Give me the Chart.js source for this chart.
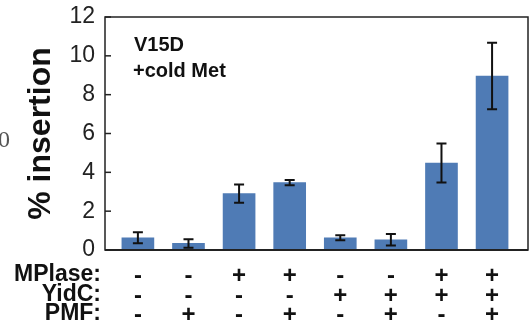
<!DOCTYPE html>
<html>
<head>
<meta charset="utf-8">
<script src="https://cdn.jsdelivr.net/npm/chart.js@4"></script>
<style>
  html, body { margin: 0; padding: 0; background: #fff; }
  #wrap { width: 532px; height: 324px; position: relative; }
</style>
</head>
<body>
<div id="wrap"><canvas id="chart"></canvas></div>
<script>
// conditions for each bar
const mplase = ["-", "-", "+", "+", "-", "-", "+", "+"];
const yidc = ["-", "-", "-", "-", "+", "+", "+", "+"];
const pmf = ["-", "+", "-", "+", "-", "+", "-", "+"];
const rowLabels = ["MPlase:", "YidC:", "PMF:"];

const insertion = [0.63, 0.34, 2.90, 3.47, 0.63, 0.53, 4.48, 8.96];
const errors = [0.28, 0.22, 0.47, 0.14, 0.13, 0.30, 1.01, 1.71];

const yTicks = [0, 2, 4, 6, 8, 10, 12];
const noteLines = ["V15D", "+cold Met"];

const FONT = "'Liberation Sans', Arial, sans-serif";

// error bars, frame, inward ticks, notes
const extras = {
  id: "extras",
  afterDatasetsDraw(chart) {
    const { ctx, chartArea, scales } = chart;
    const x = scales.x, y = scales.y;
    ctx.save();
    ctx.strokeStyle = "#111";
    ctx.lineWidth = 2;
    insertion.forEach((v, i) => {
      const px = x.getPixelForValue(i + 1);
      const hi = y.getPixelForValue(v + errors[i]);
      const lo = y.getPixelForValue(v - errors[i]);
      ctx.beginPath();
      ctx.moveTo(px, hi); ctx.lineTo(px, lo);
      ctx.moveTo(px - 5, hi); ctx.lineTo(px + 5, hi);
      ctx.moveTo(px - 5, lo); ctx.lineTo(px + 5, lo);
      ctx.stroke();
    });

    // frame
    ctx.strokeStyle = "#222";
    ctx.lineWidth = 1.5;
    ctx.strokeRect(chartArea.left, chartArea.top,
      chartArea.right - chartArea.left, chartArea.bottom - chartArea.top);
    ctx.lineWidth = 2;
    ctx.beginPath();
    ctx.moveTo(chartArea.left, chartArea.bottom);
    ctx.lineTo(chartArea.right, chartArea.bottom);
    ctx.stroke();

    // inward ticks
    ctx.lineWidth = 1.5;
    yTicks.forEach(t => {
      const py = y.getPixelForValue(t);
      ctx.beginPath();
      ctx.moveTo(chartArea.left, py);
      ctx.lineTo(chartArea.left + 6, py);
      ctx.stroke();
    });

    // note text
    ctx.fillStyle = "#111";
    ctx.font = "bold 20px " + FONT;
    ctx.textAlign = "left";
    ctx.textBaseline = "middle";
    ctx.fillText(noteLines[0], 134, 45);
    ctx.fillText(noteLines[1], 133, 71);

    // row labels
    ctx.font = "bold 23px " + FONT;
    ctx.textAlign = "right";
    rowLabels.forEach((r, i) => {
      ctx.fillText(r, 101, 275 + i * 19.5);
    });

    // cropped stray digit at the left edge
    ctx.fillStyle = "#555";
    ctx.font = "24px 'Liberation Serif', serif";
    ctx.textAlign = "right";
    ctx.fillText("0", 10, 141);
    ctx.restore();
  }
};

new Chart(document.getElementById("chart"), {
  type: "bar",
  data: {
    datasets: [{
      data: insertion.map((v, i) => ({ x: i + 1, y: v })),
      backgroundColor: "#4f7bb5",
      barThickness: 32
    }]
  },
  options: {
    responsive: true,
    maintainAspectRatio: false,
    animation: false,
    layout: { padding: { top: 17, right: 4, left: 0, bottom: 0 } },
    plugins: {
      legend: { display: false },
      tooltip: { enabled: false }
    },
    scales: {
      x: {
        type: "linear",
        min: 0.35,
        max: 8.71,
        offset: false,
        grid: { display: false, drawTicks: false },
        border: { display: false },
        afterBuildTicks: (scale) => {
          scale.ticks = insertion.map((_, i) => ({ value: i + 1 }));
        },
        afterFit: (scale) => {
          scale.height = 74;
          scale.paddingLeft = 0;
          scale.paddingRight = 0;
        },
        ticks: {
          autoSkip: false,
          maxRotation: 0,
          padding: 17,
          color: "#111",
          font: { family: FONT, size: 24, weight: "bold", lineHeight: 19.5 / 24 },
          callback: (value) => {
            const i = Math.round(value) - 1;
            return [mplase[i], yidc[i], pmf[i]];
          }
        }
      },
      y: {
        min: 0,
        max: 12,
        grid: { display: false, drawTicks: false },
        border: { display: false },
        afterBuildTicks: (scale) => {
          scale.ticks = yTicks.map(v => ({ value: v }));
        },
        afterFit: (scale) => {
          scale.width = 105;
          scale.paddingTop = 0;
          scale.paddingBottom = 0;
        },
        ticks: {
          padding: 10,
          color: "#222",
          font: { family: FONT, size: 23 }
        },
        title: {
          display: true,
          text: "% insertion",
          color: "#111",
          padding: { top: 22, bottom: 0 },
          font: { family: FONT, size: 32, weight: "bold" }
        }
      }
    }
  },
  plugins: [extras]
});
</script>
</body>
</html>
